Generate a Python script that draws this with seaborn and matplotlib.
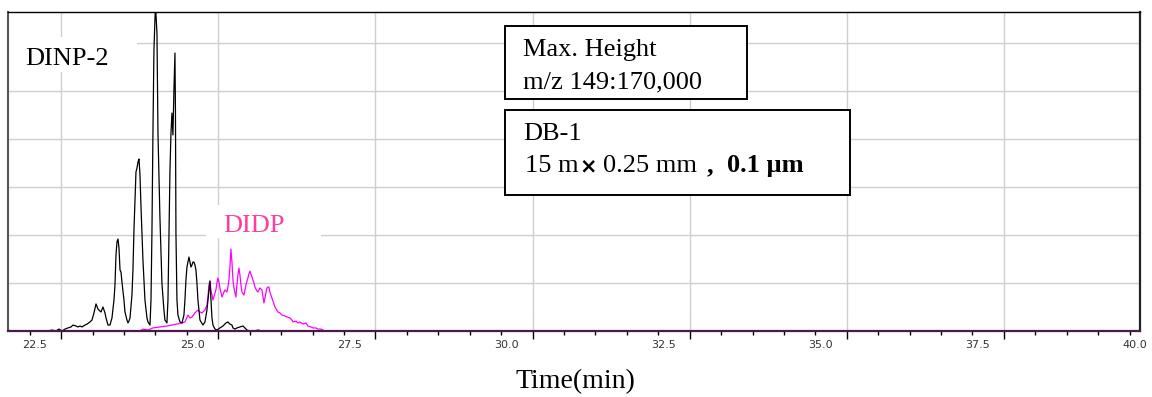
import numpy as np
import pandas as pd
import matplotlib
matplotlib.use("Agg")
import matplotlib.pyplot as plt
from matplotlib.patches import Rectangle
import seaborn as sns

# Extracted ion trace, m/z 149 (retention time in min, intensity in counts)
dinp_time = [22.706, 22.77, 22.833, 22.881, 22.929, 22.977, 23.024, 23.072, 23.104, 23.152,
             23.183, 23.215, 23.247, 23.295, 23.327, 23.374, 23.406, 23.438, 23.470, 23.501,
             23.517, 23.549, 23.581, 23.613, 23.629, 23.661, 23.692, 23.724, 23.756, 23.772,
             23.788, 23.804, 23.820, 23.836, 23.852, 23.868, 23.883, 23.915, 23.931, 23.963,
             23.979, 23.995, 24.011, 24.042, 24.058, 24.074, 24.090, 24.106, 24.122, 24.138,
             24.154, 24.170, 24.185, 24.201, 24.217, 24.249, 24.281, 24.297, 24.329, 24.345,
             24.360, 24.376, 24.392, 24.416, 24.440, 24.456, 24.472, 24.487, 24.503, 24.519,
             24.551, 24.567, 24.599, 24.615, 24.631, 24.647, 24.663, 24.678, 24.686, 24.694,
             24.710, 24.726, 24.734, 24.742, 24.758, 24.774, 24.806, 24.838, 24.869, 24.885,
             24.901, 24.917, 24.933, 24.949, 24.965, 24.981, 24.997, 25.012, 25.028, 25.044,
             25.060, 25.076, 25.092, 25.124, 25.172, 25.203, 25.235, 25.251, 25.267, 25.283,
             25.299, 25.315, 25.331, 25.363, 25.394, 25.442, 25.490, 25.538, 25.569, 25.601,
             25.633, 25.649, 25.681, 25.712, 25.760, 25.808, 25.840, 25.872, 25.919, 25.967,
             26.062]
dinp_signal = [0, 500, 0, 1000, 0, 1000, 1600, 2100, 3100, 2600,
               2100, 2600, 2100, 3100, 3600, 4700, 5700, 9400, 14100, 11500,
               10900, 9900, 12500, 9400, 6800, 3100, 3100, 6800, 16100, 24000,
               39600, 46400, 47900, 43200, 31800, 30700, 25500, 16100, 9900, 5700,
               4200, 5200, 6800, 18700, 31800, 52600, 68200, 82800, 84900, 88000,
               89600, 81200, 65600, 51000, 37000, 16100, 6800, 4700, 3100, 16100,
               51000, 103100, 146400, 170000, 155200, 103100, 81200, 59400, 42200, 25000,
               10900, 5700, 4200, 16100, 51000, 83900, 103100, 113500, 107300, 102100,
               125500, 144800, 115100, 51000, 16100, 8300, 4700, 4200, 8300, 16100,
               26600, 33300, 35900, 38500, 35900, 33300, 34400, 35900, 35900, 34400,
               31800, 25000, 16100, 5700, 3100, 4700, 10900, 16100, 21400, 26000,
               16100, 6800, 3100, 1000, 500, 1600, 2600, 4200, 4700, 3600,
               3100, 1600, 1000, 1600, 2100, 2600, 1600, 500, 0, 0,
               500]

didp_time = [22.07, 24.17, 24.217, 24.297, 24.376, 24.487, 24.599, 24.678, 24.758, 24.838,
             24.885, 24.933, 24.965, 24.997, 25.044, 25.092, 25.124, 25.156, 25.203, 25.235,
             25.251, 25.267, 25.283, 25.299, 25.331, 25.363, 25.378, 25.394, 25.410, 25.426,
             25.442, 25.474, 25.506, 25.522, 25.553, 25.569, 25.585, 25.601, 25.617, 25.633,
             25.649, 25.665, 25.696, 25.712, 25.728, 25.744, 25.760, 25.776, 25.792, 25.824,
             25.856, 25.887, 25.903, 25.919, 25.935, 25.951, 25.983, 25.999, 26.031, 26.046,
             26.078, 26.110, 26.142, 26.158, 26.189, 26.205, 26.221, 26.237, 26.269, 26.301,
             26.317, 26.364, 26.396, 26.428, 26.476, 26.508, 26.555, 26.587, 26.603, 26.651,
             26.683, 26.715, 26.762, 26.810, 26.842, 26.890, 26.921, 26.969, 27.001, 27.049,
             27.080, 27.112, 40.08]
didp_signal = [0, 0, 1000, 500, 1600, 2100, 2600, 3100, 3600, 4200,
               4700, 8300, 6800, 7300, 9400, 10900, 9900, 9400, 10900, 13500,
               17700, 24000, 26000, 21400, 16100, 19800, 21400, 25000, 27600, 25500,
               22400, 17700, 20300, 21400, 20300, 22900, 26600, 33300, 42700, 35900,
               26600, 22400, 17700, 24000, 29200, 32800, 29200, 24000, 20300, 18700,
               24000, 27600, 29700, 31200, 29700, 28100, 25000, 22900, 20800, 20300,
               22400, 21400, 14600, 17200, 22400, 22900, 22900, 20300, 17200, 14100,
               12500, 9900, 9400, 8300, 7800, 7300, 6800, 5700, 4700, 5200,
               4200, 4700, 3600, 4200, 2600, 2100, 1600, 1600, 1000, 1000,
               500, 0, 0]

tick_values = [22.5, 25.0, 27.5, 30.0, 32.5, 35.0, 37.5, 40.0]
tick_labels = ["22.5", "25.0", "27.5", "30.0", "32.5", "35.0", "37.5", "40.0"]
grid_times = [22.915 + 2.5 * k for k in range(7)]
grid_levels = [25000 * k for k in range(1, 7)]

sns.set_style("white")
plt.rcParams["font.family"] = ["Liberation Serif", "DejaVu Serif"]
plt.rcParams["text.color"] = "black"

W, H = 1152, 397
fig = plt.figure(figsize=(W / 100, H / 100), dpi=100)
ax = fig.add_axes([8 / W, (H - 331) / H, 1132 / W, 319 / H])


def fx(px):
    return px / W


def fy(py):
    return 1 - py / H


df = pd.concat([
    pd.DataFrame({"time": didp_time, "signal": didp_signal, "sample": "DIDP"}),
    pd.DataFrame({"time": dinp_time, "signal": dinp_signal, "sample": "DINP-2"}),
], ignore_index=True)

sns.lineplot(data=df, x="time", y="signal", hue="sample",
             hue_order=["DIDP", "DINP-2"],
             palette={"DIDP": "#ff00ff", "DINP-2": "black"},
             estimator=None, sort=False, linewidth=0.9, legend=False, ax=ax)

ax.set_xlim(22.07, 40.08)
ax.set_ylim(0, 166150)
ax.set_xlabel("")
ax.set_ylabel("")

# grid and ticks
ax.set_xticks(grid_times)
ax.set_xticks(np.arange(22.415, 40.0, 0.5), minor=True)
ax.set_yticks(grid_levels)
ax.tick_params(axis="x", which="major", bottom=True, length=6, width=1,
               color="black", labelbottom=False)
ax.tick_params(axis="x", which="minor", bottom=True, length=3, width=1,
               color="black")
ax.tick_params(axis="y", length=0, labelleft=False)
ax.grid(True, which="major", color="#cfcfcf", linewidth=1.0)
ax.set_axisbelow(True)

sec = ax.secondary_xaxis("bottom")
sec.set_xticks(tick_values, labels=tick_labels)
sec.tick_params(length=0, pad=6.5, labelsize=8, labelcolor="#333333")
for lab in sec.get_xticklabels():
    lab.set_family("DejaVu Sans")
sec.spines["bottom"].set_visible(False)

for side, col, lw in [("left", "#555555", 1.5), ("right", "#222222", 1.6),
                      ("top", "black", 1.0), ("bottom", "#4a1a4a", 1.6)]:
    ax.spines[side].set_visible(True)
    ax.spines[side].set_color(col)
    ax.spines[side].set_linewidth(lw)
    ax.spines[side].set_zorder(4)

# label backgrounds inside the plot
ax.add_patch(Rectangle((0, 0.812), 0.114, 0.110, transform=ax.transAxes,
                       facecolor="white", edgecolor="none", zorder=1))
ax.add_patch(Rectangle((0.175, 0.2915), 0.1015, 0.1035, transform=ax.transAxes,
                       facecolor="white", edgecolor="none", zorder=1))
ax.text(0.015, 0.8354, "DINP-2", transform=ax.transAxes, fontsize=19,
        color="black", va="baseline", ha="left", zorder=3)
ax.text(0.190, 0.310, "DIDP", transform=ax.transAxes, fontsize=19,
        color="#ff3da0", va="baseline", ha="left", zorder=3)

# information boxes
for (x0, y0, x1, y1) in [(505, 26, 747, 99), (505, 110, 850, 195)]:
    fig.patches.append(Rectangle((fx(x0), fy(y1)), fx(x1 - x0), (y1 - y0) / H,
                                 transform=fig.transFigure, facecolor="white",
                                 edgecolor="black", linewidth=1.4, zorder=5))

fs = 19
fig.text(fx(523), fy(56), "Max. Height", fontsize=fs, va="baseline", zorder=6)
fig.text(fx(523), fy(88), "m/z 149:170,000", fontsize=fs, va="baseline", zorder=6)
fig.text(fx(523), fy(140), "DB-1", fontsize=fs, va="baseline", zorder=6)
fig.text(fx(525), fy(172), "15 m", fontsize=fs, va="baseline", zorder=6)
fig.text(fx(588), fy(172), "\u00d7", fontsize=15, fontweight="bold",
         family="DejaVu Sans", ha="center", va="baseline", zorder=6)
fig.text(fx(603), fy(172), "0.25 mm", fontsize=fs, va="baseline", zorder=6)
fig.text(fx(707), fy(172), ",", fontsize=fs, fontweight="bold", va="baseline", zorder=6)
fig.text(fx(727), fy(172), "0.1 \u00b5m", fontsize=fs, fontweight="bold",
         va="baseline", zorder=6)

fig.text(fx(575), fy(388), "Time(min)", fontsize=20, ha="center", va="baseline")

fig.savefig("out.png", dpi=100)
